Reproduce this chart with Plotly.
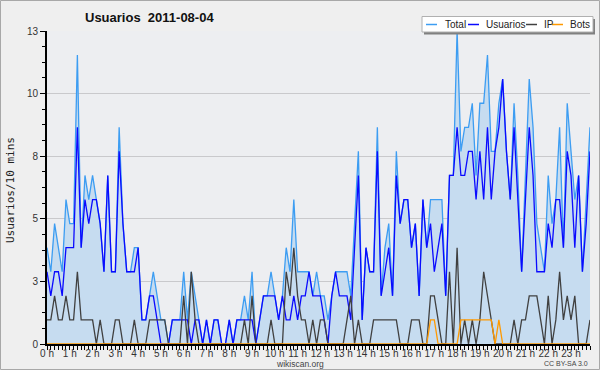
import plotly.graph_objects as go

# 10-minute slots over the day (144 points)
slots = list(range(144))
hour_ticks = list(range(0, 144, 6))
hour_labels = [f"{h} h" for h in range(24)]

total = [4,3,5,4,3,6,5,5,12,4,7,6,7,6,5,3,7,3,3,9,5,3,3,4,4,1,1,2,3,2,
         1,1,0,1,1,1,3,1,3,2,1,0,1,0,1,1,0,0,1,0,1,1,2,1,3,0,1,2,2,3,
         2,1,2,4,3,6,3,3,3,3,2,3,2,2,1,2,3,3,3,3,2,5,8,1,4,3,3,9,2,4,
         5,2,8,5,6,6,4,5,2,6,4,6,6,6,6,2,7,7,13,8,9,9,10,7,10,10,12,8,8,10,
         11,8,6,10,7,3,7,11,9,5,4,3,7,5,6,9,4,10,8,6,7,3,6,9]
usuarios = [3,2,3,3,2,4,4,4,9,4,6,5,6,6,5,3,7,3,3,8,5,3,3,3,4,1,1,2,2,1,
            0,0,0,1,1,1,1,1,0,1,1,0,1,0,1,1,0,0,1,0,1,1,1,1,1,0,1,2,2,2,
            2,1,2,1,1,2,1,2,2,3,2,2,2,1,0,2,3,2,2,2,1,4,7,1,4,3,3,8,2,3,
            4,2,7,5,6,6,4,5,2,6,4,5,3,4,5,2,7,7,9,7,7,8,8,6,8,6,9,6,8,9,
            11,8,6,9,6,3,6,9,7,3,3,3,5,4,6,6,4,8,7,4,7,3,5,8]
ip = [1,1,2,1,1,2,1,1,3,1,1,1,1,0,1,0,0,0,1,1,0,0,0,1,0,0,0,1,1,1,
      1,1,0,0,0,0,2,0,3,1,0,0,0,0,0,0,0,0,0,0,0,0,1,0,2,0,0,0,0,1,
      0,0,0,3,2,4,2,1,1,0,1,0,1,1,0,0,0,0,0,1,2,0,1,0,0,0,1,1,1,1,
      1,1,1,0,0,0,1,1,1,0,0,2,2,1,0,0,3,0,4,0,1,0,1,0,1,3,2,1,0,0,
      0,0,0,1,0,1,1,2,2,2,1,0,2,0,1,3,1,2,1,2,0,0,0,1]
bots = [0]*101 + [1,1] + [0]*6 + [1]*9 + [0,1] + [0]*24

y_tickvals = [0, 2.6, 5.2, 7.8, 10.4, 13]
y_ticktext = ["0", "3", "5", "8", "10", "13"]

series = [
    ("Total", total, "#3d9df2"),
    ("Usuarios", usuarios, "#0a0aff"),
    ("IP", ip, "#404040"),
    ("Bots", bots, "#ff9900"),
]

fig = go.Figure()
for name, vals, col in series:
    kw = {}
    if name == "Total":
        kw = dict(fill="tozeroy", fillcolor="#c6dcf0")
    fig.add_trace(go.Scatter(x=slots, y=vals, mode="lines", name=name,
                             line=dict(color=col, width=1.3), **kw))

L, R, T, B = 47, 10, 31, 26
W, H = 600, 370
pw, ph = W - L - R, H - T - B


def px(x):
    return (x - L) / pw


def py(y):
    return (H - B - y) / ph


shapes = [
    # outer border
    dict(type="rect", xref="paper", yref="paper", x0=px(0.5), x1=px(599.5),
         y0=py(0.5), y1=py(369.5), line=dict(color="#a8a8a8", width=1), layer="above"),
    # legend shadow
    dict(type="rect", xref="paper", yref="paper", x0=px(424), x1=px(595),
         y0=py(19), y1=py(34.5), fillcolor="#808080", line=dict(width=0), layer="above"),
    # legend box
    dict(type="rect", xref="paper", yref="paper", x0=px(422), x1=px(593),
         y0=py(16.5), y1=py(32), fillcolor="white", line=dict(color="#b0b0b0", width=1),
         layer="above"),
]
annotations = []
leg_items = [(426, 443), (468, 484), (526, 542), (552, 568)]
for (lx, tx), (name, _, col) in zip(leg_items, series):
    shapes.append(dict(type="line", xref="paper", yref="paper", x0=px(lx), x1=px(lx + 11),
                       y0=py(24.5), y1=py(24.5), line=dict(color=col, width=1.5), layer="above"))
    annotations.append(dict(text=name, xref="paper", yref="paper", x=px(tx), y=py(24.5),
                            xanchor="left", yanchor="middle", showarrow=False,
                            font=dict(family="Liberation Sans", size=10, color="#222")))

annotations += [
    dict(text="Usuarios/10 mins", xref="paper", yref="paper", x=px(10), y=py(190),
         textangle=-90, showarrow=False, xanchor="center", yanchor="middle",
         font=dict(family="DejaVu Sans Mono", size=11, color="#222")),
    dict(text="wikiscan.org", xref="paper", yref="paper", x=px(300), y=py(364.5),
         showarrow=False, xanchor="center", yanchor="middle",
         font=dict(family="Liberation Sans", size=8.5, color="#444")),
    dict(text="CC BY-SA 3.0", xref="paper", yref="paper", x=px(590), y=py(363.5),
         showarrow=False, xanchor="right", yanchor="middle",
         font=dict(family="Liberation Sans", size=7, color="#444")),
]

fig.update_layout(
    width=W, height=H,
    margin=dict(l=L, r=R, t=T, b=B),
    paper_bgcolor="#efefef",
    plot_bgcolor="#edeef1",
    showlegend=False,
    title=dict(text="<b>Usuarios\u00a0\u00a02011-08-04</b>", xref="container", yref="container",
               x=85 / W, xanchor="left", y=1 - 17 / H, yanchor="middle",
               font=dict(family="Liberation Sans", size=13, color="#111")),
    shapes=shapes,
    annotations=annotations,
    xaxis=dict(range=[0, 143], tickmode="array", tickvals=hour_ticks, ticktext=hour_labels,
               ticks="outside", ticklen=4, tickcolor="black", tickwidth=1,
               showline=True, linecolor="black", linewidth=2, showgrid=False, zeroline=False,
               tickfont=dict(family="Liberation Sans", size=10, color="#333"),
               ticklabelstandoff=-5,
               minor=dict(tickmode="linear", tick0=0, dtick=1, ticks="outside", ticklen=4,
                          tickcolor="black", showgrid=False),
               fixedrange=True),
    yaxis=dict(range=[0, 13], tickmode="array", tickvals=y_tickvals, ticktext=y_ticktext,
               ticks="outside", ticklen=5, tickcolor="black", tickwidth=1,
               showline=True, linecolor="black", linewidth=2,
               showgrid=True, gridcolor="#c9c9cc", gridwidth=1, zeroline=False,
               tickfont=dict(family="Liberation Sans", size=10, color="#333"),
               minor=dict(tickmode="linear", tick0=0, dtick=0.65, ticks="outside", ticklen=3,
                          tickcolor="black", showgrid=False),
               fixedrange=True),
)

fig.write_html("out.html", config={"displayModeBar": False},
               post_script="document.body.style.margin='0';document.body.style.overflow='hidden';")
